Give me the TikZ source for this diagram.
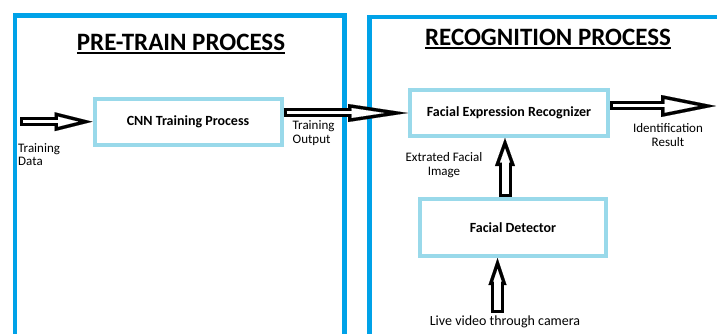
\documentclass[tikz,border=0pt]{standalone}
\usepackage{fontspec}
\setmainfont{Carlito}
\usetikzlibrary{arrows.meta}

\definecolor{panelblue}{HTML}{00A2E8}
\definecolor{stageblue}{HTML}{99D9EA}

% underlined heading, rule a little below the baseline
\newcommand\headline[1]{\setbox0\hbox{#1}\rlap{\rule[-3.2pt]{\wd0}{2pt}}\box0}

\tikzset{
  panel/.style={draw=panelblue, line width=4.5pt},
  title/.style={font=\bfseries\fontsize{25}{30}\selectfont, anchor=base, inner sep=0pt},
  stage/.style={draw=stageblue, line width=4pt, font=\bfseries\fontsize{14}{16}\selectfont},
  note/.style={font=\fontsize{13}{13.5}\selectfont, inner sep=0pt},
  % white shaft and head drawn over a wider black one
  % {shaft}{head length}{head width}{inner length}{inner width}{inner set back}
  hollow/.style n args={6}{draw=white, line width=#1-6pt,
    shorten <=3pt, shorten >=#6,
    -{Triangle[length=#4, width=#5, line width=0.1pt]},
    preaction={draw=black, line width=#1, shorten <=0pt, shorten >=0pt,
      -{Triangle[length=#2, width=#3, line width=0.1pt]}}}
}

\begin{document}
\begin{tikzpicture}[x=1pt, y=-1pt]
  \useasboundingbox (0,0) rectangle (717,334);
  \clip (0,0) rectangle (717,334);
  \fill[white] (0,0) rectangle (717,334);

  % the two process panels
  \draw[panel] (15,15.5) rectangle (344.5,345);
  \draw[panel] (369.5,17) rectangle (735,345);
  \node[title] (pretrain) at (181,50.5) {\headline{PRE-TRAIN PROCESS}};
  \node[title] (recog) at (548,46) {\headline{RECOGNITION PROCESS}};

  % stages
  \node[stage, minimum width=187pt, minimum height=46pt] (cnn) at (188,121.7) {CNN Training Process};
  \node[stage, minimum width=198pt, minimum height=46pt] (fer) at (509,113) {Facial Expression Recognizer};
  \node[stage, minimum width=186pt, minimum height=57pt] (det) at (513,227.5) {Facial Detector};

  \coordinate (datain) at (20,121.7);
  \coordinate (result) at (716,106);
  \coordinate (camera) at (497.5,313);

  % flow
  \draw[hollow={9pt}{38pt}{19pt}{20.1pt}{10.05pt}{14.4pt}] (datain) -- (cnn.west);
  \draw[hollow={9pt}{60pt}{18pt}{32.9pt}{9.9pt}{23.6pt}] (fer.west -| cnn.east) -- (fer.west);
  \draw[hollow={9pt}{55pt}{22pt}{33.6pt}{13.4pt}{17.9pt}] (fer.east |- result) -- (result);
  \draw[hollow={13pt}{28pt}{20pt}{14.1pt}{10.1pt}{10.4pt}] ([xshift=-8pt]det.north) -- ([xshift=-8pt]det.north |- fer.south);
  \draw[hollow={13pt}{27pt}{18pt}{12.4pt}{8.3pt}{11.1pt}] (camera) -- (camera |- det.south);

  % labels
  \node[note, anchor=west, align=left] (datalbl) at (18,154.5) {Training\\Data};
  \node[note, anchor=west, align=left] (outlbl) at (292.5,133) {Training\\Output};
  \node[note, align=center] (resultlbl) at (668,135) {Identification\\Result};
  \node[note, align=center] (facelbl) at (444,165) {Extrated Facial\\Image};
  \node[note, font=\fontsize{14}{16}\selectfont] (cameralbl) at (505,322) {Live video through camera};
\end{tikzpicture}
\end{document}
